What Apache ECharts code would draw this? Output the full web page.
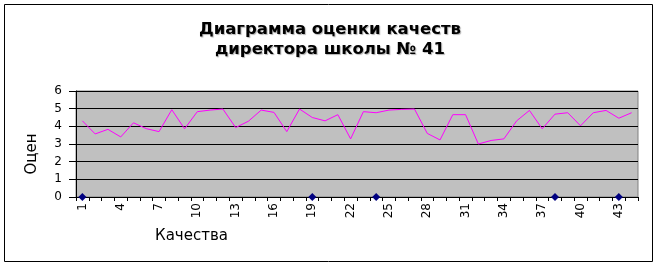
<!DOCTYPE html>
<html><head><meta charset="utf-8">
<script src="https://cdn.jsdelivr.net/npm/echarts@6/dist/echarts.min.js"></script>
<style>html,body{margin:0;padding:0;background:#fff}#c{width:660px;height:266px}</style>
</head><body><div id="c"></div>
<script>
const titleLines = ['Диаграмма оценки качеств', 'директора школы № 41'];
const xName = 'Качества';
const yName = 'Оцен';
const categories = [];
for (let i = 1; i <= 44; i++) categories.push(String(i));
const scores = [4.31,3.57,3.83,3.4,4.2,3.87,3.7,4.94,3.86,4.83,4.92,4.98,3.93,4.29,4.92,4.79,3.7,4.98,4.5,4.31,4.66,3.29,4.83,4.77,4.92,4.96,4.98,3.6,3.23,4.66,4.66,3.0,3.2,3.29,4.31,4.9,3.86,4.69,4.77,4.03,4.77,4.9,4.46,4.77];
const zeros = [0,null,null,null,null,null,null,null,null,null,null,null,null,null,null,null,null,null,0,null,null,null,null,0,null,null,null,null,null,null,null,null,null,null,null,null,null,0,null,null,null,null,0,null];
const yTicks = [0,1,2,3,4,5,6];

const chart = echarts.init(document.getElementById('c'));
chart.setOption({
  animation: false,
  backgroundColor: '#fff',
  title: {
    text: titleLines.join('\n'),
    left: 'center', top: 15,
    textStyle: { fontFamily: 'DejaVu Sans', fontWeight: 'bold', fontSize: 16.5, lineHeight: 20, color: '#000',
      textShadowColor: 'rgba(0,0,0,0.3)', textShadowOffsetX: 1, textShadowOffsetY: 1, textShadowBlur: 1 }
  },
  graphic: [
    { type: 'rect', shape: { x: 4.5, y: 4.5, width: 648, height: 257 }, style: { fill: 'none', stroke: '#000', lineWidth: 1 }, z: 0 },
    { type: 'text', left: 155, top: 229, style: { text: xName, font: '15px "DejaVu Sans"', fill: '#000' } },
    { type: 'text', x: 32, y: 154, rotation: Math.PI / 2, style: { text: yName, font: '15px "DejaVu Sans"', fill: '#000', align: 'center', verticalAlign: 'middle' } }
  ],
  grid: { left: 76, right: 22, top: 91, bottom: 69, show: true, backgroundColor: '#C0C0C0', borderColor: '#808080', borderWidth: 1 },
  xAxis: {
    type: 'category', data: categories, boundaryGap: true,
    axisLine: { lineStyle: { color: '#000', width: 1 } },
    axisTick: { show: true, interval: 0, length: 4, lineStyle: { color: '#000' } },
    axisLabel: { interval: 2, rotate: 90, margin: 6, fontFamily: 'DejaVu Sans', fontSize: 12, color: '#000' },
    splitLine: { show: false }
  },
  yAxis: {
    type: 'value', min: yTicks[0], max: yTicks[yTicks.length - 1], interval: 1,
    axisLine: { show: true, lineStyle: { color: '#000', width: 1 } },
    axisTick: { show: true, length: 7, lineStyle: { color: '#000' } },
    axisLabel: { margin: 14, fontFamily: 'DejaVu Sans', fontSize: 12, color: '#000' },
    splitLine: { show: true, lineStyle: { color: '#000', width: 1 } }
  },
  series: [
    { type: 'line', data: scores, symbol: 'none', lineStyle: { color: '#FF00FF', width: 1 }, itemStyle: { color: '#FF00FF' }, z: 3 },
    { type: 'line', data: zeros, connectNulls: false, symbol: 'diamond', symbolSize: 8, showSymbol: true,
      lineStyle: { width: 0, opacity: 0 }, itemStyle: { color: '#000080' }, z: 4 }
  ]
});
</script></body></html>
